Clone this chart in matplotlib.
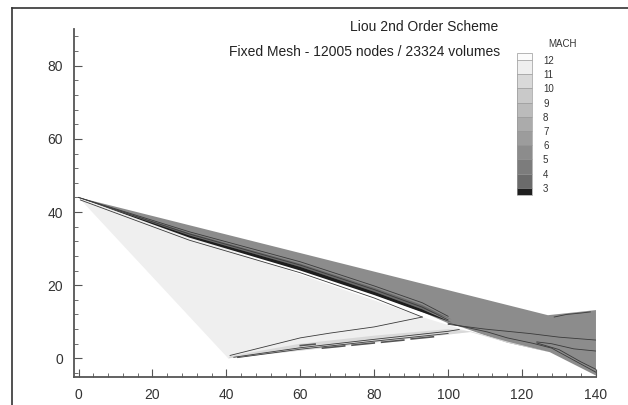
import numpy as np
import matplotlib.pyplot as plt
from matplotlib.colors import ListedColormap, BoundaryNorm
from matplotlib.lines import Line2D

plt.rcParams['font.family'] = ['Liberation Sans', 'DejaVu Sans']

# Mach bands and their grey shades
mach_levels = [2.5, 3, 4, 5, 6, 7, 8, 9, 10, 11, 12, 12.5]
mach_greys = ['#1e1e1e', '#6b6b6b', '#7c7c7c', '#8c8c8c', '#9c9c9c', '#ababab',
              '#bbbbbb', '#c9c9c9', '#d9d9d9', '#efefef', '#fbfbfb']
mach_ticks = [3, 4, 5, 6, 7, 8, 9, 10, 11, 12]

# flow regions: outline (x, y) and Mach number
free_x = [0, 93, 106, 40.5]
free_y = [44, 11.3, 7.2, 0]
free_mach = 11.5

comp_x = [0, 127, 140, 140, 127.5, 116, 110, 104, 100, 93, 80, 60, 30]
comp_y = [44, 11.8, 13.2, -4.7, 1.7, 4.3, 6.3, 8.4, 9.6, 12.7, 17.5, 24.4, 33.4]
comp_mach = 5.5

strip_x = [40.5, 60, 80, 100, 106, 116, 127.5, 116, 106, 100, 80, 60, 41]
strip_y = [0, 2.1, 4.3, 6.5, 7.2, 4.3, 1.7, 4.6, 7.4, 8.0, 6.2, 4.0, 0.6]
strip_mach = 10.5

# thin low-Mach layer riding on the leading-edge shock
band_x = [0, 30, 60, 80, 93, 101, 93, 80, 60, 30]
band_y = [44, 33.6, 25.0, 18.2, 13.4, 9.8, 12.6, 17.3, 24.0, 33.0]
band_mach = 2.8

layer_x = [0, 30, 60, 80, 93, 101, 93, 80, 60, 30]
layer_y = [44, 34.3, 25.9, 19.3, 14.6, 10.6, 13.4, 18.2, 25.0, 33.6]
layer_mach = 3.5

# contour lines
shock_x = [0.5, 30, 60, 80, 93]
shock_y = [43.3, 32.3, 23.4, 16.5, 11.3]
inner_x = [93, 80, 68, 60, 41]
inner_y = [11.3, 8.6, 6.9, 5.6, 0.8]
wall_lines = [
    ([0, 30, 60, 80, 93, 100], [44, 34.6, 26.4, 19.8, 15.2, 11.5]),
    ([0, 30, 60, 80, 93, 100], [44, 34.0, 25.5, 18.8, 14.0, 10.5]),
    ([42, 60, 80, 100, 103], [0.3, 2.9, 5.2, 7.4, 7.9]),
    ([43, 60, 80, 100], [0.2, 2.5, 4.7, 6.8]),
    ([100, 110.7, 116, 123, 128, 140], [9.6, 7.2, 5.6, 4.1, 2.8, -3.8]),
    ([100, 110, 118, 122, 130, 140], [9.3, 8.0, 7.2, 6.8, 5.8, 5.0]),
    ([124, 128, 134, 140], [4.5, 4.0, 2.6, 2.0]),
    ([124, 130, 136, 140], [4.2, 2.4, -1.0, -3.0]),
    ([128.7, 132, 136, 138.5], [11.3, 12.0, 12.4, 12.7]),
]
dash_x = [[66, 72], [74, 80], [82, 88], [90, 96], [60, 64]]
dash_y = [[2.8, 3.4], [3.6, 4.2], [4.4, 5.0], [5.3, 5.9], [3.5, 3.9]]

cmap = ListedColormap(mach_greys)
norm = BoundaryNorm(mach_levels, cmap.N)

fig = plt.figure(figsize=(6.28, 4.05), dpi=100)
ax = fig.add_axes([0.118, 0.070, 0.831, 0.858])

regions = [(free_x, free_y, free_mach), (comp_x, comp_y, comp_mach),
           (strip_x, strip_y, strip_mach), (layer_x, layer_y, layer_mach),
           (band_x, band_y, band_mach)]
for xs, ys, m in regions:
    ax.fill(xs, ys, color=cmap(norm(m)), lw=0)

line_kw = dict(color='#3a3a3a', lw=0.6)
ax.plot(shock_x, shock_y, **line_kw)
ax.plot(inner_x, inner_y, **line_kw)
for xs, ys in wall_lines:
    ax.plot(xs, ys, **line_kw)
for xs, ys in zip(dash_x, dash_y):
    ax.plot(xs, ys, color='#555555', lw=1.2)

ax.set_xlim(-1.2, 140)
ax.set_ylim(-5, 90)
ax.set_xticks(range(0, 141, 20))
ax.set_yticks(range(0, 81, 20))
ax.set_xticks(range(0, 141, 4), minor=True)
ax.set_yticks(range(-4, 89, 4), minor=True)
for s in ['top', 'right']:
    ax.spines[s].set_visible(False)
for s in ['left', 'bottom']:
    ax.spines[s].set_color('#555555')
    ax.spines[s].set_linewidth(1.3)
ax.tick_params(which='major', direction='in', length=6, width=0.8, color='#555555',
               labelsize=10, labelcolor='#333333', pad=8)
ax.tick_params(which='minor', direction='in', length=3, width=0.6, color='#555555')

# titles
fig.text(0.793, 0.934, 'Liou 2nd Order Scheme', ha='right', va='center',
         fontsize=10, color='#222222')
fig.text(0.796, 0.872, 'Fixed Mesh - 12005 nodes / 23324 volumes', ha='right',
         va='center', fontsize=10, color='#222222')

# Mach legend
cax = fig.add_axes([0.823, 0.519, 0.024, 0.350])
sm = plt.cm.ScalarMappable(cmap=cmap, norm=norm)
cb = fig.colorbar(sm, cax=cax, boundaries=mach_levels, ticks=mach_ticks,
                  spacing='proportional', drawedges=True)
cb.minorticks_off()
cb.outline.set_edgecolor('#999999')
cb.outline.set_linewidth(0.5)
cb.dividers.set_color('#999999')
cb.dividers.set_linewidth(0.5)
cax.tick_params(which='both', length=0, labelsize=7, labelcolor='#333333', pad=8)
fig.text(0.895, 0.891, 'MACH', ha='center', va='center', fontsize=7, color='#333333')

# page frame (top and left edges)
fig.add_artist(Line2D([0.019, 0.019], [0, 0.980], transform=fig.transFigure,
                      color='#333333', lw=1.2))
fig.add_artist(Line2D([0.019, 1.0], [0.980, 0.980], transform=fig.transFigure,
                      color='#333333', lw=1.2))

fig.savefig('out.png', dpi=100)
